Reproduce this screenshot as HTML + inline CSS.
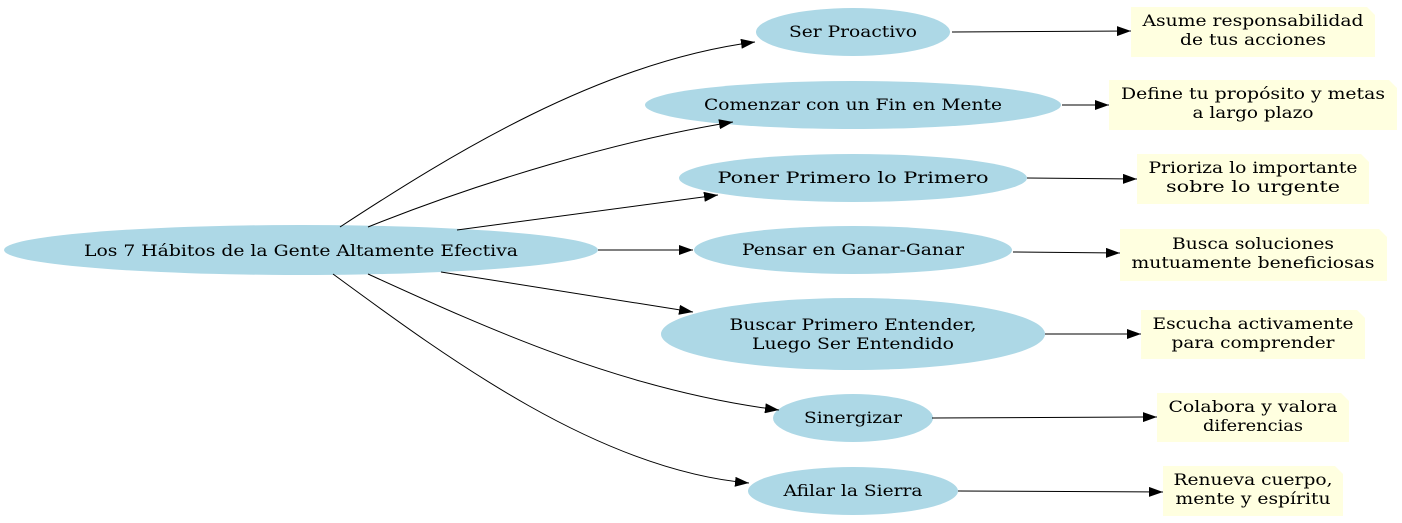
<!DOCTYPE html>
<html><head><meta charset="utf-8"><style>
html,body{margin:0;padding:0;background:#fff;width:1402px;height:523px;overflow:hidden}
text{font-family:"DejaVu Serif","Liberation Serif",serif;font-size:16px;fill:#000;text-anchor:middle}
</style></head><body>
<svg width="1402" height="523" viewBox="0 0 1402 523" xmlns="http://www.w3.org/2000/svg">
<defs><marker id="a" markerUnits="userSpaceOnUse" markerWidth="14" markerHeight="10" refX="14" refY="5" orient="auto"><path d="M0,0 L14,5 L0,10 Z" fill="#000"/></marker></defs>
<g fill="#add8e6">
<ellipse cx="301" cy="250" rx="297" ry="25"/>
<ellipse cx="853" cy="32" rx="97" ry="24"/>
<ellipse cx="853" cy="105" rx="208" ry="24"/>
<ellipse cx="853" cy="178" rx="174" ry="24"/>
<ellipse cx="853" cy="250" rx="159" ry="24"/>
<ellipse cx="853" cy="334" rx="192" ry="36"/>
<ellipse cx="853" cy="418" rx="80" ry="24"/>
<ellipse cx="853" cy="491" rx="105" ry="24"/>
</g>
<g fill="#ffffe0">
<path d="M1131,7 H1367 L1375,15 V57 H1131 Z"/>
<path d="M1109,80 H1389 L1397,88 V130 H1109 Z"/>
<path d="M1137,154 H1361 L1369,162 V204 H1137 Z"/>
<path d="M1120,229 H1379 L1387,237 V281 H1120 Z"/>
<path d="M1141,310 H1357 L1365,318 V359 H1141 Z"/>
<path d="M1157,393 H1341 L1349,401 V442 H1157 Z"/>
<path d="M1163,466 H1335 L1343,474 V516 H1163 Z"/>
</g>
<g fill="none" stroke="#000" stroke-width="1" marker-end="url(#a)">
<path d="M340,227 C450,155 600,62 755,42"/>
<path d="M368,227 C480,182 620,140 733,122"/>
<path d="M457,230 L718,195"/>
<path d="M598,250 L693,250"/>
<path d="M441,272 L693,312"/>
<path d="M368,274 C480,325 620,390 779,410"/>
<path d="M333,274 C450,360 600,470 749,483"/>
<path d="M952,32 L1131,31"/>
<path d="M1062,105 L1109,105"/>
<path d="M1027,178 L1137,179"/>
<path d="M1013,252 L1120,253"/>
<path d="M1045,334 L1141,334"/>
<path d="M932,418 L1157,417"/>
<path d="M958,491 L1163,492"/>
</g>
<g lengthAdjust="spacingAndGlyphs">
<text x="301" y="256" textLength="434" lengthAdjust="spacingAndGlyphs">Los 7 Hábitos de la Gente Altamente Efectiva</text>
<text x="853" y="37" textLength="128" lengthAdjust="spacingAndGlyphs">Ser Proactivo</text>
<text x="853" y="110" textLength="298" lengthAdjust="spacingAndGlyphs">Comenzar con un Fin en Mente</text>
<text x="853" y="183" textLength="271" lengthAdjust="spacingAndGlyphs">Poner Primero lo Primero</text>
<text x="853" y="255" textLength="222" lengthAdjust="spacingAndGlyphs">Pensar en Ganar-Ganar</text>
<text x="853" y="330" textLength="247" lengthAdjust="spacingAndGlyphs">Buscar Primero Entender,</text>
<text x="853" y="349" textLength="202" lengthAdjust="spacingAndGlyphs">Luego Ser Entendido</text>
<text x="853" y="423" textLength="98" lengthAdjust="spacingAndGlyphs">Sinergizar</text>
<text x="853" y="496" textLength="139" lengthAdjust="spacingAndGlyphs">Afilar la Sierra</text>
<text x="1253" y="26" textLength="221" lengthAdjust="spacingAndGlyphs">Asume responsabilidad</text>
<text x="1253" y="45" textLength="146" lengthAdjust="spacingAndGlyphs">de tus acciones</text>
<text x="1253" y="99" textLength="264" lengthAdjust="spacingAndGlyphs">Define tu propósito y metas</text>
<text x="1253" y="118" textLength="121" lengthAdjust="spacingAndGlyphs">a largo plazo</text>
<text x="1253" y="173" textLength="209" lengthAdjust="spacingAndGlyphs">Prioriza lo importante</text>
<text x="1253" y="192" textLength="174" lengthAdjust="spacingAndGlyphs">sobre lo urgente</text>
<text x="1253" y="249" textLength="162" lengthAdjust="spacingAndGlyphs">Busca soluciones</text>
<text x="1253" y="268" textLength="243" lengthAdjust="spacingAndGlyphs">mutuamente beneficiosas</text>
<text x="1253" y="329" textLength="201" lengthAdjust="spacingAndGlyphs">Escucha activamente</text>
<text x="1253" y="348" textLength="163" lengthAdjust="spacingAndGlyphs">para comprender</text>
<text x="1253" y="412" textLength="169" lengthAdjust="spacingAndGlyphs">Colabora y valora</text>
<text x="1253" y="431" textLength="100" lengthAdjust="spacingAndGlyphs">diferencias</text>
<text x="1253" y="485" textLength="159" lengthAdjust="spacingAndGlyphs">Renueva cuerpo,</text>
<text x="1253" y="504" textLength="155" lengthAdjust="spacingAndGlyphs">mente y espíritu</text>
</g>
</svg>
</body></html>
